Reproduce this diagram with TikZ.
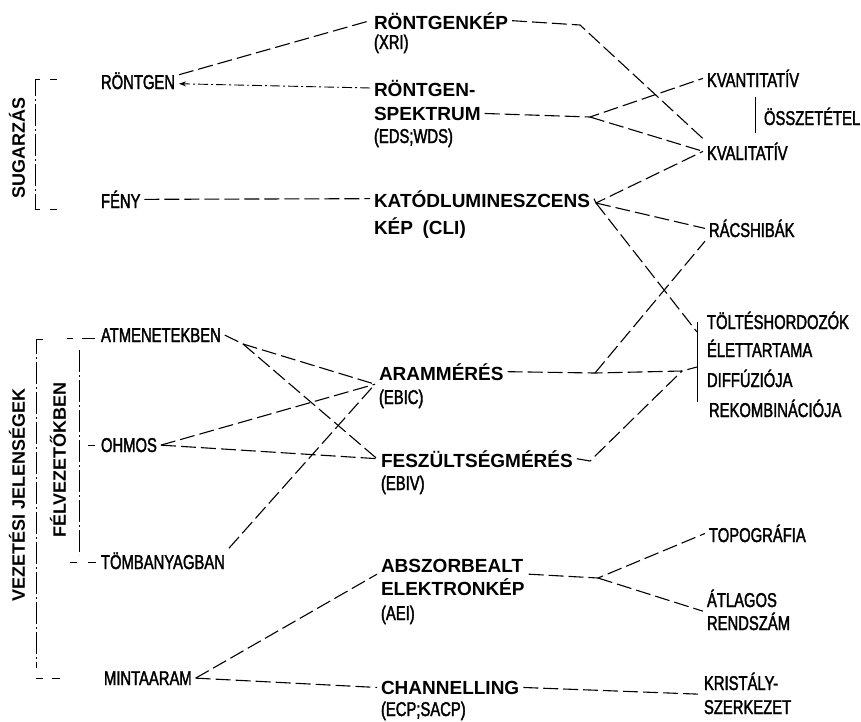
\documentclass[tikz,border=0pt]{standalone}
\usepackage{fontspec}
\setmainfont{Liberation Sans}
\newfontfamily\narrowfont[FakeStretch=0.74,FakeBold=1.8]{Liberation Sans}
\usetikzlibrary{arrows.meta,calc}
\tikzset{
  lbl/.style={anchor=base west,inner sep=0pt,outer sep=4pt,
              font=\narrowfont\fontsize{20}{22}\selectfont},
  ttl/.style={lbl,font=\bfseries\fontsize{19}{21}\selectfont},
  side/.style={rotate=90,inner sep=0pt,font=\bfseries\fontsize{18}{20}\selectfont},
  link/.style={line width=1.1pt,dash pattern=on 15pt off 5pt},
  dlink/.style={line width=0.9pt,dash pattern=on 10pt off 3pt on 2pt off 3pt},
  brk/.style={line width=0.9pt,dash pattern=on 22pt off 3pt on 2pt off 3pt},
  tick/.style={line width=1pt},
}

\begin{document}
\begin{tikzpicture}[x=1pt,y=-1pt]
  \useasboundingbox (0,0) rectangle (861,721);
  % side titles
  \node[side] (sug)  at (17,148) {SUGARZÁS};
  \node[side] (vez)  at (17,495) {VEZETÉSI JELENSÉGEK};
  \node[side] (felv) at (58,460) {FÉLVEZETŐKBEN};
  % sources
  \node[lbl] (rtg)   at (97,89)   {RÖNTGEN};
  \node[lbl] (feny)  at (97,208)  {FÉNY};
  \node[lbl] (atm)   at (97,342)  {ATMENETEKBEN};
  \node[lbl] (ohm)   at (97,452)  {OHMOS};
  \node[lbl] (tomb)  at (97,569)  {TÖMBANYAGBAN};
  \node[lbl] (minta) at (100,685) {MINTAARAM};
  % methods
  \node[ttl] (xri)     at (370,29)  {RÖNTGENKÉP};
  \node[lbl] (xrisub)  at (370,49)  {(XRI)};
  \node[ttl] (spk1)    at (370,96)  {RÖNTGEN-};
  \node[ttl] (spk2)    at (370,120) {SPEKTRUM};
  \node[lbl] (spk3)    at (370,143) {(EDS;WDS)};
  \node[ttl] (kat1)    at (370,207) {KATÓDLUMINESZCENS};
  \node[ttl] (kat2)    at (370,234) {KÉP\enspace(CLI)};
  \node[ttl] (aram)    at (375,380) {ARAMMÉRÉS};
  \node[lbl] (aramsub) at (375,404) {(EBIC)};
  \node[ttl] (fesz)    at (377,467) {FESZÜLTSÉGMÉRÉS};
  \node[lbl] (feszsub) at (377,490) {(EBIV)};
  \node[ttl] (abs1)    at (377,572) {ABSZORBEALT};
  \node[ttl] (abs2)    at (377,595) {ELEKTRONKÉP};
  \node[lbl] (abs3)    at (377,620) {(AEI)};
  \node[ttl] (chan)    at (377,694) {CHANNELLING};
  \node[lbl] (chansub) at (377,716) {(ECP;SACP)};
  % results
  \node[lbl] (kvant) at (703,87)  {KVANTITATÍV};
  \node[lbl] (ossz)  at (760,125) {ÖSSZETÉTEL};
  \node[lbl] (kval)  at (703,160) {KVALITATÍV};
  \node[lbl] (racs)  at (705,237) {RÁCSHIBÁK};
  \node[lbl] (tolt1) at (703,329) {TÖLTÉSHORDOZÓK};
  \node[lbl] (tolt2) at (703,357) {ÉLETTARTAMA};
  \node[lbl] (tolt3) at (703,387) {DIFFÚZIÓJA};
  \node[lbl] (tolt4) at (705,417) {REKOMBINÁCIÓJA};
  \node[lbl] (topo)  at (705,542) {TOPOGRÁFIA};
  \node[lbl] (atl1)  at (703,607) {ÁTLAGOS};
  \node[lbl] (atl2)  at (703,630) {RENDSZÁM};
  \node[lbl] (kris1) at (700,690) {KRISTÁLY-};
  \node[lbl] (kris2) at (700,714) {SZERKEZET};
  % junctions
  \coordinate (xrij)  at (580,25);
  \coordinate (spkj)  at (590,117);
  \coordinate (katj)  at (596,203);
  \coordinate (brtop) at (697,332);
  \coordinate (aramj) at (595,373);
  \coordinate (difj)  at (682,371);
  \coordinate (brmid) at (697,367);
  \coordinate (feszj) at (590,461);
  \coordinate (atmj)  at (243,344);
  \coordinate (elekj) at (598,578);
  % radiation
  \draw[link] ([yshift=6pt]rtg.east) -- (xri.west);
  \draw[dlink,-{Stealth[length=7pt,width=5pt]}] (spk1.west) -- ([yshift=-3pt]rtg.east);
  \draw[link] (feny.east) -- (kat1.west);
  \draw[link] (xri.east) -- (xrij) -- (kval.north west);
  \draw[link] (spk2.east) -- (spkj) -- (kvant.west);
  \draw[link] (spkj) -- (kval.west);
  \draw[link] (kat1.east) -- (katj) -- (kval.west);
  \draw[link] (katj) -- (racs.west);
  \draw[link] (katj) -- (brtop);
  % conduction
  \draw[link] (atm.east) -- (atmj) -- (aram.south west);
  \draw[link] (atmj) -- (fesz.west);
  \draw[link] (ohm.east) -- (aram.south west);
  \draw[link] (ohm.east) -- (fesz.west);
  \draw[link] (tomb.north east) -- (aram.south west);
  \draw[link] (aram.east) -- (aramj) -- (difj) -- (brmid);
  \draw[link] (aramj) -- (racs.south west);
  \draw[link] (fesz.east) -- (feszj) -- (difj);
  % specimen current
  \draw[link] (minta.east) -- (abs2.north west);
  \draw[link] (minta.east) -- (chan.west);
  \draw[link] (abs2.north east) -- (elekj) -- (topo.west);
  \draw[link] (elekj) -- (atl1.south west);
  \draw[link] (chan.east) -- (kris1.south west);
  % brackets
  \draw[brk] (40,79) -- (35,79) -- (35,209) -- (40,209);
  \draw[tick] (50,79) -- (57,79) (50,209) -- (57,209);
  \draw[brk] (43,339) -- (36,339) -- (36,668);
  \draw[tick] (36,678) -- (43,678) (52,678) -- (60,678);
  \draw[tick] (67,338) -- (73,338) (82,338) -- (95,338);
  \draw[brk] (79,350) -- (79,555);
  \draw[tick] (88,445) -- (95,445);
  \draw[tick] (70,562) -- (77,562) (88,562) -- (96,562);
  \draw[tick] (697,322) -- (697,402);
  \draw[tick] (755,97) -- (755,133);
\end{tikzpicture}
\end{document}
